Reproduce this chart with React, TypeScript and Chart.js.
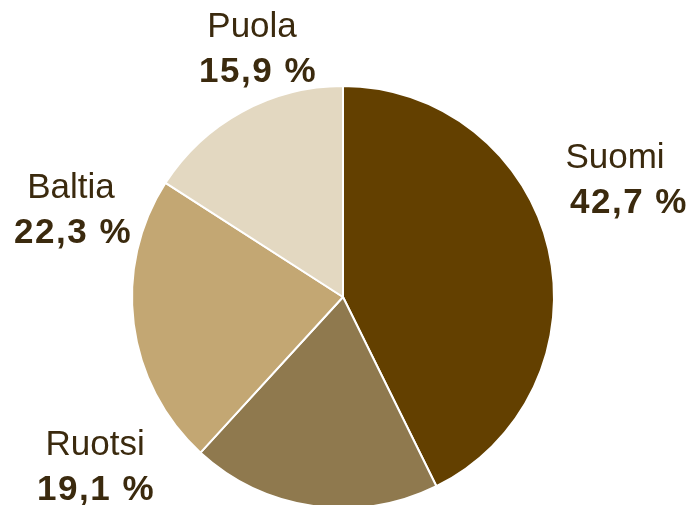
import React, { useEffect, useRef } from "react";
import { Chart, registerables } from "chart.js";

Chart.register(...registerables);

const categories = ["Suomi", "Ruotsi", "Baltia", "Puola"];
const shares = [42.7, 19.1, 22.3, 15.9];
const valueLabels = ["42,7 %", "19,1 %", "22,3 %", "15,9 %"];
const colors = ["#634000", "#8F794E", "#C3A773", "#E3D8C1"];
// label anchor positions relative to pie centre, in units of the radius
const labelOffsetX = [1.289, -1.175, -1.289, -0.431];
const labelOffsetY = [-0.611, 0.749, -0.469, -1.232];
const valueShiftX = [14, 1, 2, 6];

const labelPlugin = {
  id: "outerLabels",
  afterDraw(chart: any) {
    const meta = chart.getDatasetMeta(0);
    const arc0 = meta.data[0];
    if (!arc0) return;
    const { x: cx, y: cy, outerRadius: r } = arc0.getProps(["x", "y", "outerRadius"], true);
    const ctx = chart.ctx;
    ctx.save();
    ctx.fillStyle = "#3B2A0E";
    ctx.textAlign = "center";
    ctx.textBaseline = "alphabetic";
    categories.forEach((name, i) => {
      const x = cx + labelOffsetX[i] * r;
      const y = cy + labelOffsetY[i] * r;
      (ctx as any).letterSpacing = "0px";
      ctx.font = "35px 'Liberation Sans'";
      ctx.fillText(name, x, y);
      (ctx as any).letterSpacing = "1.5px";
      ctx.font = "bold 35px 'Liberation Sans'";
      ctx.fillText(valueLabels[i], x + valueShiftX[i], y + 45);
    });
    ctx.restore();
  },
};

export default function App() {
  const ref = useRef<HTMLCanvasElement>(null);
  useEffect(() => {
    document.body.style.margin = "0";
    const chart = new Chart(ref.current!, {
      type: "pie",
      data: {
        labels: categories,
        datasets: [
          {
            data: shares,
            backgroundColor: colors,
            borderColor: "#FFFFFF",
            borderWidth: 2,
          },
        ],
      },
      options: {
        responsive: false,
        animation: false,
        radius: 211,
        layout: { padding: { left: 132, right: 136, top: 89, bottom: 0 } },
        plugins: { legend: { display: false }, tooltip: { enabled: false } },
      } as any,
      plugins: [labelPlugin],
    });
    return () => chart.destroy();
  }, []);
  return (
    <div style={{ width: 690, height: 505, background: "#fff" }}>
      <canvas ref={ref} width={690} height={505} />
    </div>
  );
}
